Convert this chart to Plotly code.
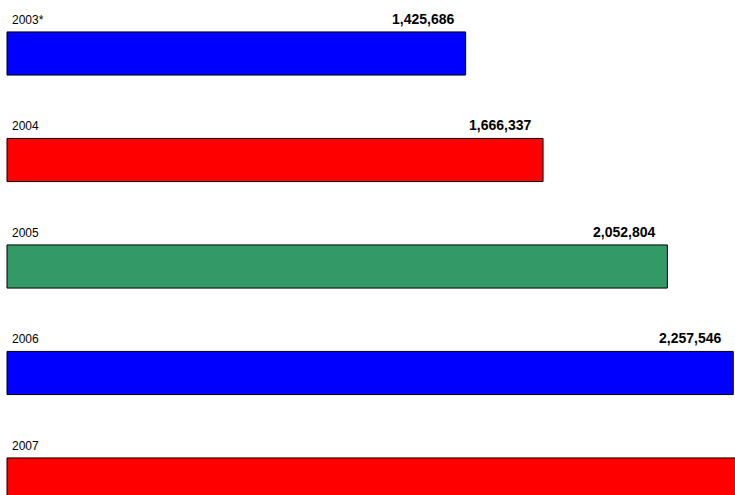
import plotly.graph_objects as go

years = ["2003*", "2004", "2005", "2006", "2007"]
values = [1425686, 1666337, 2052804, 2257546, 2287817]
colors = ["#0000FF", "#FF0000", "#339966", "#0000FF", "#FF0000"]

pos = list(range(len(years)))
bar_w = 0.405

fig = go.Figure()
fig.add_trace(go.Bar(
    x=values, y=pos, orientation="h", width=bar_w,
    marker=dict(color=colors, line=dict(color="#000000", width=1)),
    hoverinfo="skip",
))

annotations = []
for i, (yr, v) in enumerate(zip(years, values)):
    annotations.append(dict(
        x=0, y=i - bar_w / 2, xref="x", yref="y", text=yr, showarrow=False,
        xanchor="left", yanchor="bottom", xshift=3, yshift=3,
        font=dict(family="Liberation Sans, Arial", size=12, color="#000000"),
    ))
    annotations.append(dict(
        x=v, y=i - bar_w / 2, xref="x", yref="y", text=f"{v:,}", showarrow=False,
        xanchor="right", yanchor="bottom", xshift=-10, yshift=3,
        font=dict(family="Liberation Sans, Arial", size=14, color="#000000", weight="bold"),
    ))

k = 3.217e-4
fig.update_layout(
    width=735, height=495,
    margin=dict(l=0, r=0, t=0, b=0),
    paper_bgcolor="white", plot_bgcolor="white",
    showlegend=False,
    xaxis=dict(range=[-7 / k, 728 / k], visible=False, fixedrange=True),
    yaxis=dict(range=[(495 - 53.5) / 106.5, -53.5 / 106.5], visible=False, fixedrange=True),
    annotations=annotations,
)

fig.write_html("out.html")
